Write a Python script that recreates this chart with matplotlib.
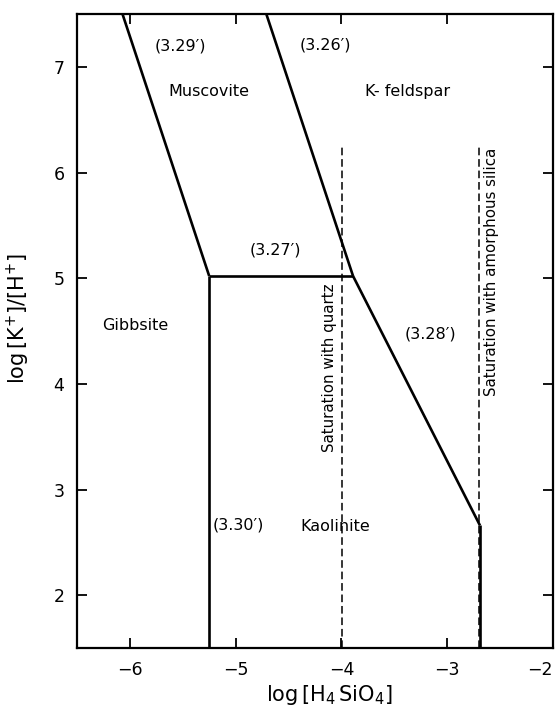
import matplotlib
matplotlib.use("Agg")
import matplotlib.pyplot as plt

plt.rcParams["mathtext.default"] = "regular"

# boundary lines (log[H4SiO4], log[K+]/[H+])
musc_gibb_x = [-6.07, -5.25]
musc_gibb_y = [7.5, 5.02]
gibb_kaol_x = [-5.25, -5.25]
gibb_kaol_y = [5.02, 1.5]
musc_kaol_x = [-5.25, -3.89]
musc_kaol_y = [5.02, 5.02]
kfel_musc_x = [-4.71, -3.89]
kfel_musc_y = [7.5, 5.02]
kfel_kaol_x = [-3.89, -2.69]
kfel_kaol_y = [5.02, 2.66]
end_x = [-2.69, -2.69]
end_y = [2.66, 1.5]

# saturation limits
quartz_x = [-3.99, -3.99]
quartz_y = [1.5, 6.25]
amorph_x = [-2.70, -2.70]
amorph_y = [1.5, 6.25]

labels = [
    ("(3.29\u2032)", -5.52, 7.20),
    ("Muscovite", -5.25, 6.77),
    ("(3.26\u2032)", -4.15, 7.21),
    ("K- feldspar", -3.37, 6.77),
    ("(3.27\u2032)", -4.62, 5.27),
    ("Gibbsite", -5.95, 4.55),
    ("(3.28\u2032)", -3.16, 4.47),
    ("Kaolinite", -4.06, 2.65),
]

fig = plt.figure(figsize=(5.56, 7.11), dpi=100)
ax = fig.add_axes([0.1385, 0.0886, 0.856, 0.8917])

for xs, ys in [(musc_gibb_x, musc_gibb_y), (gibb_kaol_x, gibb_kaol_y),
               (musc_kaol_x, musc_kaol_y), (kfel_musc_x, kfel_musc_y),
               (kfel_kaol_x, kfel_kaol_y), (end_x, end_y)]:
    ax.plot(xs, ys, color="black", lw=1.9, solid_capstyle="butt")

for xs, ys in [(quartz_x, quartz_y), (amorph_x, amorph_y)]:
    ax.plot(xs, ys, color="black", lw=1.1, ls=(0, (5, 2.5)))

for txt, x, y in labels:
    ax.text(x, y, txt, ha="center", va="center", fontsize=11.5)

ax.text(-5.22, 2.66, "(3.30\u2032)", ha="left", va="center", fontsize=11.5)
ax.text(-4.11, 4.15, "Saturation with quartz", rotation=90,
        ha="center", va="center", fontsize=10.8)
ax.text(-2.58, 5.06, "Saturation with amorphous silica", rotation=90,
        ha="center", va="center", fontsize=10.8)

ax.set_xlim(-6.5, -2)
ax.set_ylim(1.5, 7.5)
ax.set_xticks([-6, -5, -4, -3, -2])
ax.set_yticks([2, 3, 4, 5, 6, 7])
ax.tick_params(direction="in", length=7, width=1.3, labelsize=12.5,
               top=True, right=True, pad=9)
for s in ax.spines.values():
    s.set_linewidth(1.6)
# keep the last x tick label inside the figure
ax.get_xticklabels()[-1].set_horizontalalignment("right")

ax.set_xlabel(r"$\log\left[H_4\,SiO_4\right]$", fontsize=15, labelpad=2)
ax.xaxis.set_label_coords(0.53, -0.055)
ax.set_ylabel(r"$\log\left[K^{+}\right]/\left[H^{+}\right]$", fontsize=15,
              labelpad=4)
ax.yaxis.set_label_coords(-0.095, 0.52)

fig.savefig("out.png", dpi=100)
